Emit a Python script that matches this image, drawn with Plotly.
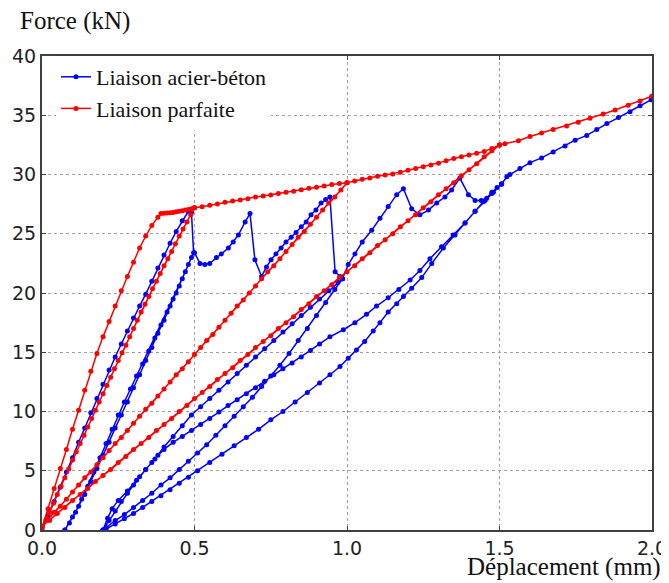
import plotly.graph_objects as go

# ---- Liaison parfaite (red) : segments ----
r_load1_x = [0.00, 0.02, 0.04, 0.06, 0.08, 0.10, 0.12, 0.14, 0.16, 0.18, 0.20, 0.22, 0.24, 0.26, 0.28, 0.30,
             0.32, 0.34, 0.36, 0.38, 0.39, 0.40, 0.41, 0.42, 0.43, 0.44, 0.45, 0.46, 0.47, 0.48, 0.49, 0.50]
r_load1_y = [0.2, 1.8, 3.5, 5.2, 6.8, 8.5, 10.1, 11.8, 13.4, 14.9, 16.3, 17.6, 18.9, 20.2, 21.4, 22.6,
             23.8, 24.8, 25.7, 26.4, 26.7, 26.72, 26.75, 26.78, 26.8, 26.85, 26.9, 26.95, 27.0, 27.05, 27.1, 27.2]
r_unload1_x = [0.5, 0.475, 0.45, 0.425, 0.4, 0.375, 0.35, 0.325, 0.3, 0.275, 0.25, 0.225, 0.2, 0.175, 0.15,
               0.125, 0.1, 0.075, 0.05, 0.025, 0.0]
r_unload1_y = [27.2, 26.0, 24.8, 23.5, 22.3, 21.0, 19.7, 18.4, 17.0, 15.6, 14.3, 12.9, 11.5, 10.1, 8.7,
               7.3, 5.9, 4.4, 3.0, 1.5, 0.2]
r_reload1_x = [0.0125, 0.0375, 0.0625, 0.0875, 0.1125, 0.1375, 0.1625, 0.1875, 0.2125, 0.2375, 0.2625,
               0.2875, 0.3125, 0.3375, 0.3625, 0.3875, 0.4125, 0.4375, 0.4625, 0.4875, 0.5]
r_reload1_y = [0.85, 2.25, 3.7, 5.15, 6.6, 8.0, 9.4, 10.8, 12.2, 13.6, 14.95,
               16.3, 17.7, 19.05, 20.35, 21.65, 22.9, 24.15, 25.4, 26.6, 27.2]
r_hard1_x = [0.525, 0.55, 0.575, 0.6, 0.625, 0.65, 0.675, 0.7, 0.725, 0.75, 0.775, 0.8, 0.825, 0.85, 0.875,
             0.9, 0.925, 0.95, 0.975, 1.0]
r_hard1_y = [27.28, 27.4, 27.52, 27.65, 27.76, 27.85, 27.95, 28.1, 28.18, 28.28, 28.4, 28.5, 28.58, 28.72,
             28.83, 28.92, 29.03, 29.15, 29.25, 29.3]
r_unload2_x = [1.0, 0.96, 0.92, 0.88, 0.84, 0.80, 0.76, 0.72, 0.68, 0.64, 0.60, 0.56, 0.52, 0.48, 0.44,
               0.40, 0.36, 0.32, 0.28, 0.24, 0.20, 0.16, 0.12, 0.08, 0.04, 0.0]
r_unload2_y = [29.3, 28.1, 27.0, 25.8, 24.7, 23.5, 22.3, 21.2, 20.0, 18.9, 17.7, 16.5, 15.4, 14.2, 13.1,
               11.9, 10.7, 9.6, 8.4, 7.3, 6.1, 4.9, 3.8, 2.6, 1.5, 0.3]
r_reload2_x = [0.02, 0.06, 0.10, 0.14, 0.18, 0.22, 0.26, 0.30, 0.34, 0.38, 0.42, 0.46, 0.50, 0.54, 0.58,
               0.62, 0.66, 0.70, 0.74, 0.78, 0.82, 0.86, 0.90, 0.94, 0.98, 1.0]
r_reload2_y = [0.9, 2.0, 3.2, 4.4, 5.5, 6.7, 7.8, 9.0, 10.2, 11.3, 12.5, 13.6, 14.8, 16.0, 17.1,
               18.3, 19.4, 20.6, 21.8, 22.9, 24.1, 25.2, 26.4, 27.6, 28.7, 29.3]
r_hard2_x = [1.025, 1.05, 1.075, 1.1, 1.125, 1.15, 1.175, 1.2, 1.225, 1.25, 1.275, 1.3, 1.325, 1.35, 1.375,
             1.4, 1.425, 1.45, 1.475, 1.5]
r_hard2_y = [29.45, 29.6, 29.7, 29.85, 29.95, 30.05, 30.2, 30.35, 30.5, 30.65, 30.8, 30.95, 31.15, 31.35,
             31.5, 31.65, 31.8, 31.95, 32.2, 32.5]
r_unload3_x = [1.5, 1.45, 1.4, 1.35, 1.3, 1.25, 1.2, 1.15, 1.1, 1.05, 1.0, 0.95, 0.9, 0.85, 0.8, 0.75, 0.7,
               0.65, 0.6, 0.55, 0.5, 0.45, 0.4, 0.35, 0.3, 0.25, 0.2, 0.15, 0.1, 0.05, 0.0]
r_unload3_y = [32.5, 31.5, 30.4, 29.3, 28.3, 27.2, 26.1, 25.0, 24.0, 22.9, 21.8, 20.7, 19.7, 18.6, 17.5,
               16.4, 15.4, 14.3, 13.2, 12.1, 11.1, 10.0, 8.9, 7.8, 6.8, 5.7, 4.6, 3.5, 2.5, 1.4, 0.3]
r_reload3_x = [0.025, 0.075, 0.125, 0.175, 0.225, 0.275, 0.325, 0.375, 0.425, 0.475, 0.525, 0.575, 0.625,
               0.675, 0.725, 0.775, 0.825, 0.875, 0.925, 0.975, 1.025, 1.075, 1.125, 1.175, 1.225, 1.275,
               1.325, 1.375, 1.425, 1.475, 1.5]
r_reload3_y = [0.8, 1.9, 3.0, 4.1, 5.1, 6.2, 7.3, 8.4, 9.4, 10.5, 11.6, 12.7, 13.7, 14.8, 15.9, 17.0, 18.0,
               19.1, 20.2, 21.3, 22.3, 23.4, 24.5, 25.6, 26.6, 27.7, 28.8, 29.9, 30.9, 32.0, 32.5]
r_hard3_x = [1.518, 1.562, 1.6, 1.638, 1.676, 1.72, 1.758, 1.797, 1.84, 1.879, 1.922, 1.961, 1.999]
r_hard3_y = [32.6, 32.85, 33.2, 33.5, 33.8, 34.1, 34.4, 34.75, 35.1, 35.45, 35.85, 36.2, 36.6]

# ---- Liaison acier-béton (blue) ----
b_load1_x = [0.00, 0.02, 0.04, 0.06, 0.08, 0.10, 0.12, 0.14, 0.16, 0.18, 0.20, 0.22, 0.24, 0.26, 0.28, 0.30,
             0.32, 0.34, 0.36, 0.38, 0.40, 0.42, 0.44, 0.46, 0.48, 0.49]
b_load1_y = [0.0, 1.2, 2.4, 3.6, 4.9, 6.1, 7.4, 8.6, 9.9, 11.1, 12.3, 13.5, 14.6, 15.7, 16.8, 17.9,
             18.9, 19.9, 21.0, 22.1, 23.2, 24.2, 25.2, 26.1, 26.9, 26.8]
b_unload1_x = [0.497, 0.48, 0.46, 0.44, 0.42, 0.40, 0.38, 0.36, 0.34, 0.32, 0.30, 0.28, 0.26, 0.24, 0.22,
               0.20, 0.18, 0.16, 0.14, 0.12, 0.10, 0.075]
b_unload1_y = [23.4, 22.4, 21.2, 20.0, 18.9, 17.7, 16.6, 15.4, 14.3, 13.1, 12.0, 10.8, 9.7, 8.6, 7.4,
               6.3, 5.2, 4.1, 3.0, 2.0, 1.1, 0.0]
b_reload1_x = [0.075, 0.09, 0.11, 0.13, 0.15, 0.17, 0.19, 0.21, 0.23, 0.25, 0.27, 0.29, 0.31, 0.33, 0.35,
               0.37, 0.39, 0.41, 0.43, 0.45, 0.47, 0.49, 0.50]
b_reload1_y = [0.0, 0.6, 1.5, 2.6, 3.7, 4.9, 6.1, 7.3, 8.5, 9.7, 10.8, 11.9, 13.0, 14.0, 15.1,
               16.2, 17.3, 18.4, 19.5, 20.6, 21.8, 23.0, 23.4]
b_slip1_x = [0.518, 0.534, 0.55, 0.572, 0.588, 0.611, 0.627, 0.644, 0.666, 0.682, 0.698, 0.72, 0.736, 0.751,
             0.767, 0.784, 0.80, 0.817, 0.833, 0.85, 0.866, 0.882, 0.898, 0.915, 0.93, 0.944, 0.961, 0.977,
             0.985]
b_slip1_y = [22.5, 22.4, 22.5, 23.0, 23.3, 23.8, 24.3, 24.9, 26.0, 26.7, 22.8, 21.4, 22.2, 22.8,
             23.3, 23.8, 24.3, 24.7, 25.1, 25.6, 26.0, 26.6, 27.0, 27.6, 27.9, 28.1, 21.8, 21.4,
             21.2]
b_unload2_x = [0.985, 0.96, 0.93, 0.90, 0.87, 0.84, 0.81, 0.78, 0.75, 0.72, 0.69, 0.66, 0.63, 0.60, 0.57,
               0.54, 0.51, 0.48, 0.45, 0.42, 0.39, 0.36, 0.33, 0.30, 0.27, 0.24, 0.21, 0.20]
b_unload2_y = [21.2, 20.3, 19.2, 18.1, 17.0, 16.0, 14.9, 13.9, 13.0, 12.1, 11.2, 10.4, 9.6, 8.8, 8.0,
               7.2, 6.5, 5.8, 5.1, 4.4, 3.8, 3.1, 2.5, 1.9, 1.3, 0.8, 0.2, 0.0]
b_reload2_x = [0.20, 0.215, 0.23, 0.25, 0.28, 0.31, 0.34, 0.37, 0.40, 0.43, 0.46, 0.49, 0.52, 0.55, 0.58,
               0.61, 0.64, 0.67, 0.70, 0.73, 0.76, 0.79, 0.82, 0.85, 0.88, 0.91, 0.94, 0.97, 0.985]
b_reload2_y = [0.0, 1.0, 1.8, 2.5, 3.3, 4.2, 5.1, 6.0, 7.0, 7.9, 8.8, 9.7, 10.4, 11.1, 11.8,
               12.5, 13.2, 13.9, 14.6, 15.3, 16.0, 16.7, 17.4, 18.1, 18.8, 19.5, 20.2, 20.9, 21.2]
b_slip2_x = [1.004, 1.026, 1.05, 1.081, 1.108, 1.135, 1.163, 1.185, 1.212, 1.239, 1.267, 1.294, 1.321,
             1.343, 1.37, 1.398, 1.42, 1.44, 1.458, 1.475, 1.492, 1.507]
b_slip2_y = [22.4, 23.3, 24.3, 25.3, 26.3, 27.3, 28.3, 28.8, 27.1, 26.6, 27.0, 27.6, 28.1,
             28.7, 29.7, 28.3, 27.8, 27.8, 28.0, 28.5, 28.9, 29.2]
b_unload3_x = [1.507, 1.48, 1.453, 1.42, 1.387, 1.354, 1.316, 1.278, 1.245, 1.212, 1.185, 1.163, 1.135,
               1.108, 1.086, 1.058, 1.031, 1.004, 0.977, 0.944, 0.91, 0.87, 0.83, 0.79, 0.75, 0.71, 0.67,
               0.63, 0.59, 0.55, 0.51, 0.48, 0.45, 0.42, 0.39, 0.36, 0.33, 0.30, 0.27, 0.24, 0.21, 0.205]
b_unload3_y = [29.2, 28.5, 27.8, 26.9, 25.9, 24.9, 23.8, 22.5, 21.3, 20.4, 19.7, 19.1, 18.4,
               17.5, 16.8, 15.9, 15.2, 14.5, 13.8, 13.1, 12.4, 11.6, 10.8, 10.0, 9.3, 8.5, 7.8,
               7.1, 6.4, 5.7, 5.0, 4.45, 3.95, 3.4, 2.9, 2.4, 1.9, 1.4, 0.95, 0.5, 0.1, 0.0]
b_reload3_x = [0.20, 0.22, 0.24, 0.26, 0.28, 0.30, 0.32, 0.34, 0.36, 0.38, 0.40, 0.43, 0.46, 0.49, 0.52,
               0.55, 0.58, 0.61, 0.64, 0.67, 0.70, 0.73, 0.76, 0.79, 0.82, 0.85, 0.88, 0.91, 0.944, 0.988,
               1.026, 1.064, 1.097, 1.135, 1.17, 1.207, 1.239, 1.272, 1.31, 1.348, 1.387, 1.42, 1.447,
               1.475, 1.507]
b_reload3_y = [0.0, 0.8, 1.6, 2.4, 3.1, 3.8, 4.5, 5.1, 5.7, 6.3, 6.8, 7.4, 7.9, 8.4, 8.9,
               9.4, 9.95, 10.5, 11.0, 11.5, 12.0, 12.55, 13.1, 13.6, 14.1, 14.6, 15.15, 15.7, 16.3, 16.9,
               17.5, 18.2, 18.9, 19.6, 20.3, 21.1, 21.9, 22.9, 23.9, 24.9, 25.9, 26.9, 27.7,
               28.4, 29.2]
b_final_x = [1.524, 1.534, 1.567, 1.60, 1.638, 1.676, 1.715, 1.748, 1.786, 1.819, 1.852, 1.89, 1.928,
             1.961, 1.997]
b_final_y = [29.8, 30.0, 30.5, 31.0, 31.4, 31.9, 32.4, 32.9, 33.3, 33.8, 34.3, 34.8, 35.3,
             35.8, 36.3]

x_ticks = [0.0, 0.5, 1.0, 1.5, 2.0]
y_ticks = [0, 5, 10, 15, 20, 25, 30, 35, 40]

red_x = (r_load1_x + r_unload1_x + r_reload1_x + r_hard1_x + r_unload2_x + r_reload2_x
         + r_hard2_x + r_unload3_x + r_reload3_x + r_hard3_x)
red_y = (r_load1_y + r_unload1_y + r_reload1_y + r_hard1_y + r_unload2_y + r_reload2_y
         + r_hard2_y + r_unload3_y + r_reload3_y + r_hard3_y)
blue_x = (b_load1_x + b_unload1_x + b_reload1_x + b_slip1_x + b_unload2_x + b_reload2_x
          + b_slip2_x + b_unload3_x + b_reload3_x + b_final_x)
blue_y = (b_load1_y + b_unload1_y + b_reload1_y + b_slip1_y + b_unload2_y + b_reload2_y
          + b_slip2_y + b_unload3_y + b_reload3_y + b_final_y)

fig = go.Figure()
fig.add_trace(go.Scatter(x=blue_x, y=blue_y, mode='lines+markers', name='Liaison acier-béton',
                         line=dict(color='#0000ff', width=1.5),
                         marker=dict(color='#0000ff', size=5)))
fig.add_trace(go.Scatter(x=red_x, y=red_y, mode='lines+markers', name='Liaison parfaite',
                         line=dict(color='#ff0000', width=1.5),
                         marker=dict(color='#ff0000', size=5)))

axis_common = dict(showgrid=True, gridcolor='#a0a0a0', griddash='dot', gridwidth=1,
                   showline=True, linecolor='#404040', linewidth=2, mirror='ticks',
                   ticks='inside', ticklen=4, tickcolor='#404040', zeroline=False,
                   automargin=False,
                   tickfont=dict(family='DejaVu Sans', size=19, color='#222222'))

# the page body adds an 8 px offset, so the figure is 8 px smaller than the window
fig.update_layout(
    width=661, height=575,
    margin=dict(l=34, r=17, t=48, b=53),
    plot_bgcolor='white', paper_bgcolor='white',
    showlegend=True,
    legend=dict(x=0.023, y=1.0, xanchor='left', yanchor='top', bgcolor='white', borderwidth=0,
                font=dict(family='Liberation Serif', size=22, color='#111111'),
                itemwidth=30, tracegroupgap=0),
    xaxis=dict(range=[0, 2], tickvals=x_ticks, tickformat='.1f', **axis_common),
    yaxis=dict(range=[0, 40], tickvals=y_ticks, **axis_common),
    annotations=[
        dict(text='Force (kN)', xref='paper', yref='paper', x=-0.04, y=1.074,
             xanchor='left', yanchor='middle', showarrow=False,
             font=dict(family='Liberation Serif', size=25, color='#111111')),
        dict(text='Déplacement (mm)', xref='paper', yref='paper', x=1.018, y=-0.079,
             xanchor='right', yanchor='middle', showarrow=False,
             font=dict(family='Liberation Serif', size=25, color='#111111')),
    ],
)

fig.write_html("out.html")
